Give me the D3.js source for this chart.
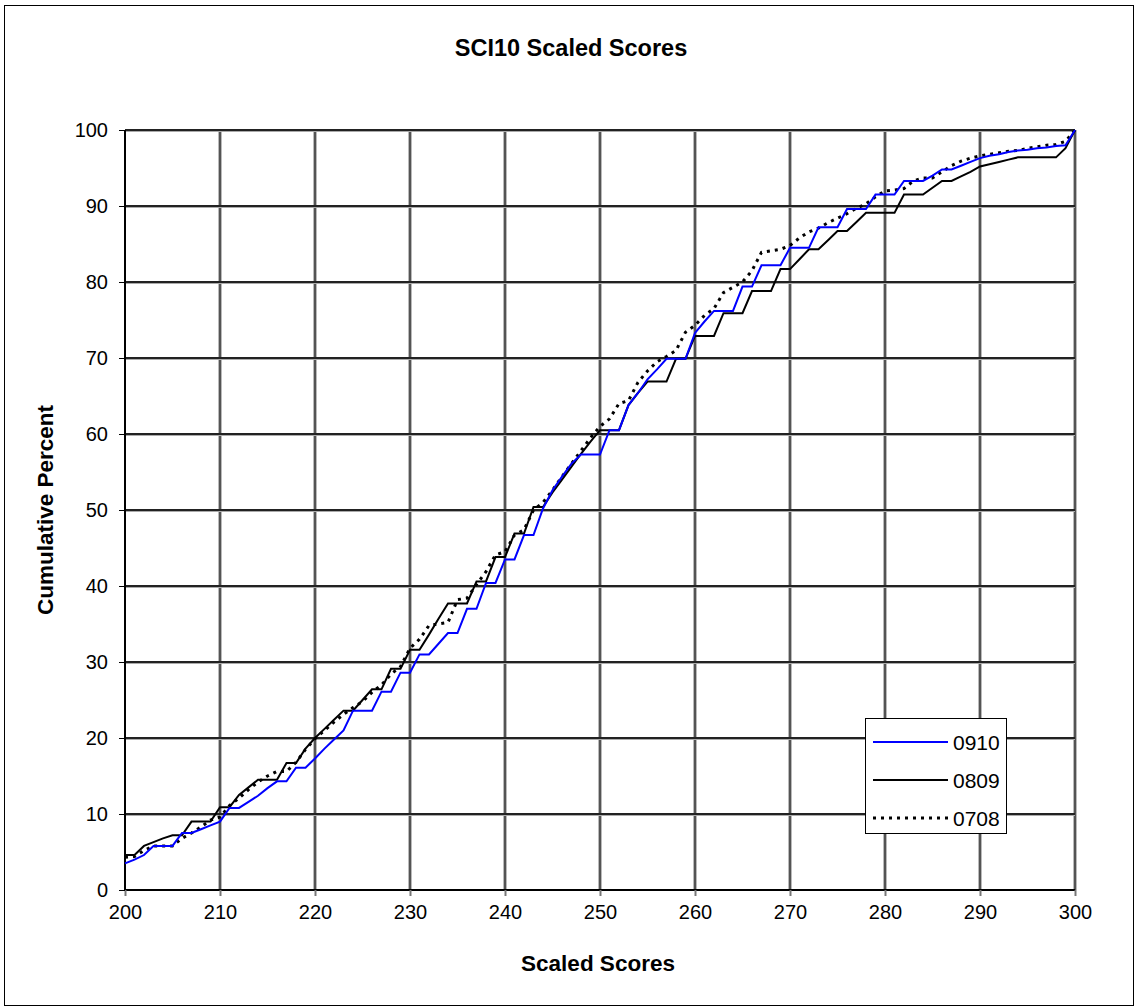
<!DOCTYPE html>
<html><head><meta charset="utf-8">
<script src="https://cdn.jsdelivr.net/npm/d3@7"></script>
<style>body{margin:0;background:#fff;font-family:"Liberation Sans",Arial,sans-serif}</style>
</head><body><svg id="c" width="1135" height="1007"></svg>
<script>
const scores = d3.range(200, 301);
const s0910 = [3.5,4.0,4.6,5.8,5.8,5.8,7.5,7.5,8.0,8.5,9.0,10.8,10.8,11.6,12.4,13.4,14.3,14.3,16.1,16.1,
17.3,18.6,19.8,21.0,23.6,23.6,23.6,26.1,26.1,28.6,28.6,31.0,31.0,32.4,33.8,33.8,37.0,37.0,40.4,40.4,
43.5,43.5,46.7,46.7,50.2,52.6,54.4,56.1,57.3,57.3,57.3,60.5,60.5,63.8,65.4,67.2,68.5,69.9,69.9,69.9,
73.3,74.8,76.2,76.2,76.2,79.4,79.4,82.2,82.2,82.2,84.5,84.5,84.5,87.2,87.2,87.2,89.6,89.6,89.6,91.5,
91.5,91.5,93.3,93.3,93.3,94.0,94.8,94.8,95.3,95.8,96.3,96.6,96.8,97.1,97.3,97.4,97.6,97.7,97.9,98.0,100];
const s0809 = [4.6,4.6,5.8,6.3,6.8,7.2,7.2,9.0,9.0,9.0,10.9,10.9,12.5,13.5,14.5,14.5,14.5,16.7,16.7,18.6,
20.0,21.2,22.4,23.6,23.6,25.0,26.4,26.4,29.1,29.1,31.6,31.6,33.6,35.7,37.7,37.7,37.7,40.6,40.6,43.8,
43.8,46.9,46.9,50.4,50.4,52.3,54.0,55.7,57.4,59.0,60.5,60.5,60.5,63.8,65.4,66.9,66.9,66.9,69.9,69.9,
72.9,72.9,72.9,75.9,75.9,75.9,78.8,78.8,78.8,81.7,81.7,83.0,84.3,84.3,85.5,86.7,86.7,87.9,89.1,89.1,
89.1,89.1,91.5,91.5,91.5,92.4,93.3,93.3,93.9,94.5,95.2,95.5,95.8,96.1,96.4,96.4,96.4,96.4,96.4,97.6,100];
const s0708 = [4.3,4.4,5.2,5.8,5.8,5.8,6.8,7.5,8.3,9.2,9.6,11.1,12.1,13.2,14.2,15.0,15.6,15.6,16.8,18.5,
19.9,21.0,22.1,23.1,24.0,24.8,26.0,27.0,28.4,29.4,31.8,33.0,34.8,35.0,35.2,38.2,38.4,40.2,41.9,44.1,
44.5,46.7,47.4,50.0,51.0,52.6,54.4,56.1,57.8,59.5,61.0,62.0,64.0,64.4,66.8,68.3,69.5,70.2,71.0,73.4,
74.3,75.6,76.5,78.6,79.3,80.0,81.5,83.9,84.1,84.3,84.8,85.8,86.6,87.1,87.8,88.4,89.0,89.7,90.3,91.2,
92.0,92.1,92.3,93.3,93.7,93.7,94.5,95.3,95.9,96.3,96.6,96.8,97.0,97.2,97.3,97.6,97.8,98.0,98.1,98.5,100];
const xTicks = d3.range(200, 301, 10);
const yTicks = d3.range(0, 101, 10);
const seriesNames = ["0910","0809","0708"];
const seriesColors = ["#0000ff","#000000","#000000"];

const svg = d3.select("#c");
const x = d3.scaleLinear().domain([200,300]).range([125,1075]);
const y = d3.scaleLinear().domain([0,100]).range([890,130]);

svg.append("rect").attr("x",4.5).attr("y",5.5).attr("width",1129).attr("height",1000)
  .attr("fill","#fff").attr("stroke","#000").attr("stroke-width",1);

svg.append("text").attr("x",571).attr("y",56).attr("text-anchor","middle")
  .style("font-size","23.5px").style("font-weight","bold").text("SCI10 Scaled Scores");

// grid
const g = svg.append("g");
xTicks.filter(t=>t>200).forEach(t=>{
  g.append("line").attr("x1",x(t)).attr("x2",x(t)).attr("y1",y(100)).attr("y2",y(0))
    .attr("stroke","#777").attr("stroke-width",3);
  g.append("line").attr("x1",x(t)).attr("x2",x(t)).attr("y1",y(100)).attr("y2",y(0))
    .attr("stroke","#333").attr("stroke-width",1);
});
yTicks.filter(t=>t>0).forEach(t=>{
  g.append("line").attr("x1",x(200)).attr("x2",x(300)).attr("y1",y(t)+1.5).attr("y2",y(t)+1.5)
    .attr("stroke","#aaa").attr("stroke-width",1);
  g.append("line").attr("x1",x(200)).attr("x2",x(300)).attr("y1",y(t)).attr("y2",y(t))
    .attr("stroke","#222").attr("stroke-width",2);
});

// axes
const xa = svg.append("g").attr("transform","translate(0,890)")
  .call(d3.axisBottom(x).tickValues(xTicks).tickSize(6).tickPadding(9));
const ya = svg.append("g").attr("transform","translate(125,0)")
  .call(d3.axisLeft(y).tickValues(yTicks).tickSize(6).tickPadding(11));
[xa,ya].forEach(a=>{
  a.select(".domain").attr("stroke","#000").attr("stroke-width",2);
  a.selectAll(".tick line").attr("stroke","#000");
  a.selectAll(".tick text").style("font-size","20px").style("font-family","Liberation Sans, Arial, sans-serif").attr("fill","#000");
});
xa.select(".domain").attr("d","M125,0H1075");
ya.select(".domain").attr("d","M0,130V890");
xa.selectAll(".tick line").attr("stroke","#777").attr("stroke-width",2);

svg.append("text").attr("x",598).attr("y",971).attr("text-anchor","middle")
  .style("font-size","22.5px").style("font-weight","bold").text("Scaled Scores");
svg.append("text").attr("transform","translate(53,510) rotate(-90)").attr("text-anchor","middle")
  .style("font-size","22.5px").style("font-weight","bold").text("Cumulative Percent");

// lines
const line = d3.line().x((d,i)=>x(scores[i])).y(d=>y(d));
svg.append("path").datum(s0708).attr("d",line).attr("fill","none")
  .attr("stroke","#000").attr("stroke-width",3).attr("stroke-dasharray","3,5");
svg.append("path").datum(s0809).attr("d",line).attr("fill","none")
  .attr("stroke","#000").attr("stroke-width",2);
svg.append("path").datum(s0910).attr("d",line).attr("fill","none")
  .attr("stroke","#0000ff").attr("stroke-width",2);

// legend
const lg = svg.append("g");
lg.append("rect").attr("x",865.5).attr("y",718.5).attr("width",141).attr("height",115)
  .attr("fill","#fff").attr("stroke","#000").attr("stroke-width",1);
seriesNames.forEach((n,i)=>{
  const yy = 742 + i*38;
  const l = lg.append("line").attr("x1",873).attr("x2",948).attr("y1",yy).attr("y2",yy)
    .attr("stroke",seriesColors[i]).attr("stroke-width",i===2?3:2);
  if(i===2) l.attr("stroke-dasharray","3,5");
  lg.append("text").attr("x",953).attr("y",yy+8).style("font-size","21px").text(n);
});
</script></body></html>
